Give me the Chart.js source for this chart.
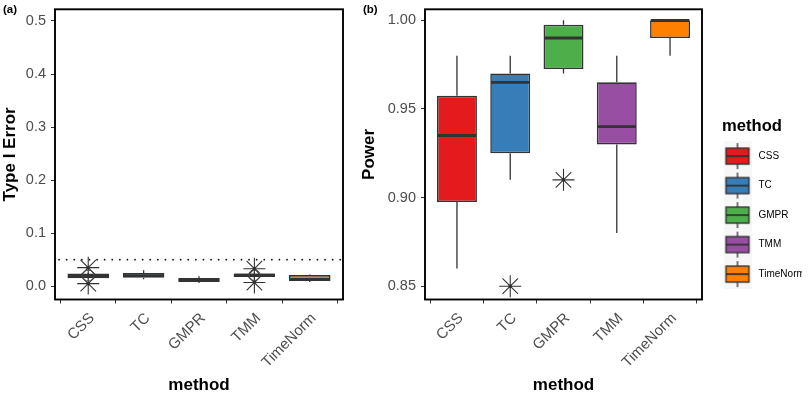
<!DOCTYPE html>
<html>
<head>
<meta charset="utf-8">
<script src="https://cdn.jsdelivr.net/npm/chart.js@4.4.1/dist/chart.umd.min.js"></script>
<style>
  html, body { margin: 0; padding: 0; background: #fff; }
  #wrap { position: relative; width: 809px; height: 395px; overflow: hidden; font-family: "Liberation Sans", Arial, sans-serif; }
  #pa { position: absolute; left: 0; top: 0; }
  #pb { position: absolute; left: 352px; top: 0; }
  .tag { position: absolute; font-weight: bold; font-size: 11.5px; color: #000; }
</style>
</head>
<body>
<div id="wrap">
  <canvas id="pa" width="352" height="395"></canvas>
  <canvas id="pb" width="457" height="395"></canvas>
  <div class="tag" style="left:3px;top:3px">(a)</div>
  <div class="tag" style="left:363px;top:3px">(b)</div>
</div>
<script>
const methods = ["CSS", "TC", "GMPR", "TMM", "TimeNorm"]
const colors = ["#E41A1C", "#377EB8", "#4DAF4A", "#984EA3", "#FF7F00"]

// (a) Type I error
const typeILow    = [0.015, 0.013, 0.006, 0.017, 0.008]
const typeIQ1     = [0.015, 0.016, 0.008, 0.0175, 0.010]
const typeIMedian = [0.019, 0.020, 0.011, 0.021, 0.013]
const typeIQ3     = [0.024, 0.025, 0.0155, 0.024, 0.021]
const typeIHigh   = [0.024, 0.030, 0.019, 0.024, 0.022]
const typeIOutMethod = ["CSS", "CSS", "TMM", "TMM"]
const typeIOutValue  = [0.035, 0.005, 0.033, 0.007]
const typeIRingMethod = ["CSS", "TMM"]
const typeIRingValue  = [0.020, 0.021]
const typeIAlpha = 0.05
const typeITicks = [0, 0.1, 0.2, 0.3, 0.4, 0.5]

// (b) Power
const powerLow    = [0.86, 0.91, 0.97, 0.88, 0.98]
const powerQ1     = [0.8975, 0.925, 0.9725, 0.93, 0.99]
const powerMedian = [0.935, 0.965, 0.99, 0.94, 1.0]
const powerQ3     = [0.9575, 0.97, 0.9975, 0.965, 1.0]
const powerHigh   = [0.98, 0.98, 1.0, 0.98, 1.0]
const powerOutMethod = ["TC", "GMPR"]
const powerOutValue  = [0.85, 0.91]
const powerTicks = [0.85, 0.90, 0.95, 1.00]

Chart.defaults.font.family = '"Liberation Sans", Arial, sans-serif'
const tickGrey = "#4D4D4D"
const ink = "#333333"

// whiskers, medians, reference line and the panel frame
const boxplotParts = {
  id: "boxplotParts",
  beforeDatasetsDraw(chart) {
    const { ctx, chartArea, scales: { x, y } } = chart
    const ds = chart.data.datasets[0]
    ctx.save()
    if (ds.refLine != null) {
      const yy = y.getPixelForValue(ds.refLine)
      ctx.strokeStyle = "#111"
      ctx.lineWidth = 1.7
      ctx.lineCap = "round"
      ctx.setLineDash([0.1, 7.5])
      ctx.beginPath()
      ctx.moveTo(chartArea.left + 4, yy)
      ctx.lineTo(chartArea.right, yy)
      ctx.stroke()
      ctx.setLineDash([])
      ctx.lineCap = "butt"
    }
    ctx.strokeStyle = ink
    ctx.lineWidth = 1.3
    ds.data.forEach((d, i) => {
      const px = x.getPixelForValue(d.x)
      ctx.beginPath()
      ctx.moveTo(px, y.getPixelForValue(ds.whiskerLow[i]))
      ctx.lineTo(px, y.getPixelForValue(d.y[0]))
      ctx.moveTo(px, y.getPixelForValue(d.y[1]))
      ctx.lineTo(px, y.getPixelForValue(ds.whiskerHigh[i]))
      ctx.stroke()
    })
    ctx.restore()
  },
  afterDatasetDraw(chart, args) {
    if (args.index !== 0) return
    const { ctx, scales: { y } } = chart
    const ds = chart.data.datasets[0]
    const meta = chart.getDatasetMeta(0)
    ctx.save()
    ctx.strokeStyle = ink
    ctx.lineWidth = 2.8
    meta.data.forEach((bar, i) => {
      const yy = y.getPixelForValue(ds.medians[i])
      ctx.beginPath()
      ctx.moveTo(bar.x - bar.width / 2 + 0.8, yy)
      ctx.lineTo(bar.x + bar.width / 2 - 0.8, yy)
      ctx.stroke()
    })
    ctx.restore()
  },
  afterDraw(chart) {
    const { ctx, chartArea: a } = chart
    ctx.save()
    ctx.strokeStyle = "#000"
    ctx.lineWidth = 1.9
    ctx.strokeRect(a.left, a.top, a.right - a.left, a.bottom - a.top)
    ctx.restore()
  }
}

function keyImage(color) {
  const c = document.createElement("canvas")
  c.width = 28
  c.height = 30
  const g = c.getContext("2d")
  g.fillStyle = "#F7F7F7"
  g.fillRect(0, 0, 28, 30)
  g.strokeStyle = ink
  g.lineWidth = 1.3
  g.beginPath()
  g.moveTo(14, 2)
  g.lineTo(14, 28)
  g.stroke()
  g.fillStyle = color
  g.fillRect(2.5, 7, 23, 16)
  g.lineWidth = 1.4
  g.strokeRect(2.5, 7, 23, 16)
  g.lineWidth = 1.8
  g.beginPath()
  g.moveTo(2.5, 15)
  g.lineTo(25.5, 15)
  g.stroke()
  return c
}

// keep the plot panel where it is: no extra room for edge labels
const zeroPad = () => ({ left: 0, top: 0, right: 0, bottom: 0 })
function noEdgePadding(s) {
  s.paddingTop = 0
  s.paddingBottom = 0
  s.paddingLeft = 0
  s.paddingRight = 0
  s.getPadding = zeroPad
}

function boxChart(canvasId, cfg) {
  const idx = (m) => methods.indexOf(m)
  const datasets = [{
    type: "bar",
    data: cfg.q1.map((q, i) => ({ x: i, y: [q, cfg.q3[i]] })),
    whiskerLow: cfg.low,
    whiskerHigh: cfg.high,
    medians: cfg.median,
    refLine: cfg.refLine,
    backgroundColor: colors,
    borderColor: ink,
    borderWidth: 1.6,
    borderSkipped: false,
    barPercentage: 0.75,
    categoryPercentage: 1,
    order: 3
  }, {
    type: "scatter",
    data: cfg.outMethod.map((m, i) => ({ x: idx(m), y: cfg.outValue[i] })),
    pointStyle: "star",
    radius: 11,
    hoverRadius: 11,
    borderColor: ink,
    borderWidth: 1.1,
    order: 1
  }, {
    type: "scatter",
    data: cfg.outMethod.map((m, i) => ({ x: idx(m), y: cfg.outValue[i] })),
    pointStyle: "circle",
    radius: 1.8,
    backgroundColor: ink,
    borderWidth: 0,
    order: 0
  }]
  if (cfg.ringMethod) {
    datasets.push({
      type: "scatter",
      data: cfg.ringMethod.map((m, i) => ({ x: idx(m), y: cfg.ringValue[i] })),
      pointStyle: "circle",
      radius: 5.5,
      backgroundColor: "rgba(0,0,0,0)",
      borderColor: "#444",
      borderWidth: 1,
      order: 0
    })
  }

  return new Chart(document.getElementById(canvasId), {
    type: "bar",
    data: { datasets },
    plugins: [boxplotParts],
    options: {
      responsive: false,
      animation: false,
      devicePixelRatio: 1,
      layout: { padding: cfg.padding, autoPadding: false },
      plugins: {
        tooltip: { enabled: false },
        legend: cfg.legend || { display: false }
      },
      scales: {
        x: {
          type: "linear",
          offset: false,
          min: -0.6,
          max: 4.6,
          afterBuildTicks: (s) => { s.ticks = methods.map((m, i) => ({ value: i })) },
          afterFit: (s) => { s.height = cfg.xHeight; noEdgePadding(s) },
          grid: { drawOnChartArea: false, drawTicks: true, tickLength: 4, color: ink, lineWidth: 1 },
          border: { display: false },
          ticks: {
            autoSkip: false,
            minRotation: 45,
            maxRotation: 45,
            padding: 6,
            labelOffset: 4,
            color: tickGrey,
            font: { size: 15 },
            callback: (v) => methods[v]
          },
          title: { display: true, text: "method", color: "#000", font: { size: 17, weight: "bold", lineHeight: 1.1 }, padding: 0 }
        },
        y: {
          min: cfg.yMin,
          max: cfg.yMax,
          afterBuildTicks: (s) => { s.ticks = cfg.ticks.map((v) => ({ value: v })) },
          afterFit: (s) => { s.width = cfg.yWidth; noEdgePadding(s) },
          grid: { drawOnChartArea: false, drawTicks: true, tickLength: 4, color: ink, lineWidth: 1 },
          border: { display: false },
          ticks: {
            padding: 5,
            color: tickGrey,
            font: { size: 14.5 },
            callback: (v) => v.toFixed(cfg.decimals)
          },
          title: { display: true, text: cfg.yTitle, color: "#000", font: { size: 17, weight: "bold" }, padding: 0 }
        }
      }
    }
  })
}

boxChart("pa", {
  low: typeILow, q1: typeIQ1, median: typeIMedian, q3: typeIQ3, high: typeIHigh,
  outMethod: typeIOutMethod, outValue: typeIOutValue,
  ringMethod: typeIRingMethod, ringValue: typeIRingValue,
  refLine: typeIAlpha,
  ticks: typeITicks, decimals: 1, yMin: -0.025, yMax: 0.522,
  yTitle: "Type I Error",
  padding: { left: 0, right: 9, top: 9.3, bottom: 0 },
  yWidth: 55, xHeight: 95.5
})

boxChart("pb", {
  low: powerLow, q1: powerQ1, median: powerMedian, q3: powerQ3, high: powerHigh,
  outMethod: powerOutMethod, outValue: powerOutValue,
  ticks: powerTicks, decimals: 2, yMin: 0.8425, yMax: 1.0062,
  yTitle: "Power",
  padding: { left: 7, right: 7, top: 9.3, bottom: 0 },
  yWidth: 66, xHeight: 95.5,
  legend: {
    display: true,
    position: "right",
    maxWidth: 100,
    title: { display: true, text: "method", color: "#000", position: "center", font: { size: 16.6, weight: "bold" }, padding: { top: 12.5, bottom: -6.5 } },
    labels: {
      usePointStyle: true,
      pointStyleWidth: 32,
      padding: 19.5,
      color: "#1A1A1A",
      font: { size: 10 },
      generateLabels: () => methods.map((m, i) => ({
        text: m,
        pointStyle: keyImage(colors[i]),
        fillStyle: colors[i],
        strokeStyle: ink,
        lineWidth: 0,
        hidden: false,
        index: i
      }))
    }
  }
})
</script>
</body>
</html>
